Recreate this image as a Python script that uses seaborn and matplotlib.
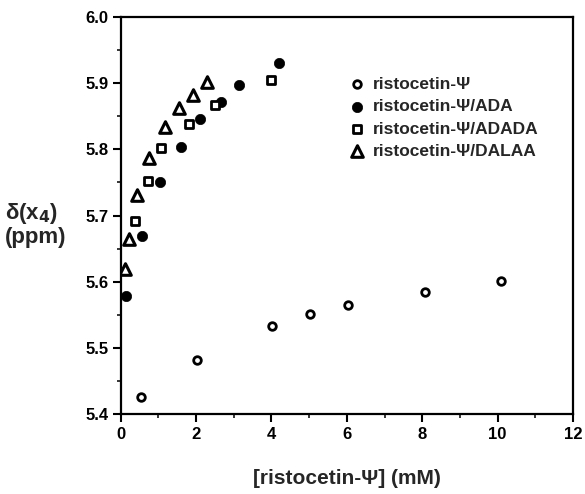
import matplotlib
matplotlib.use("Agg")
import matplotlib.pyplot as plt
import seaborn as sns
from matplotlib.ticker import MultipleLocator

sns.set_theme(style="ticks")
plt.rcParams['font.family'] = ['Liberation Sans', 'DejaVu Sans']

# Data (x: [ristocetin-Ψ] mM, y: δ(x4) ppm)
psi_x = [0.53, 2.03, 4.02, 5.03, 6.04, 8.08, 10.09]
psi_y = [5.426, 5.482, 5.533, 5.551, 5.565, 5.584, 5.601]

ada_x = [0.14, 0.56, 1.04, 1.59, 2.10, 2.65, 3.14, 4.19]
ada_y = [5.578, 5.669, 5.750, 5.803, 5.846, 5.871, 5.897, 5.930]

adada_x = [0.39, 0.73, 1.08, 1.82, 2.51, 3.98]
adada_y = [5.691, 5.752, 5.802, 5.839, 5.867, 5.905]

dalaa_x = [0.11, 0.23, 0.44, 0.76, 1.18, 1.55, 1.93, 2.30]
dalaa_y = [5.619, 5.665, 5.731, 5.787, 5.833, 5.862, 5.882, 5.902]

labels = ["ristocetin-Ψ", "ristocetin-Ψ/ADA", "ristocetin-Ψ/ADADA", "ristocetin-Ψ/DALAA"]

fig = plt.figure(figsize=(5.85, 4.94), dpi=100)
ax = fig.add_axes([0.2063, 0.1619, 0.7732, 0.8037])

sns.scatterplot(x=psi_x, y=psi_y, ax=ax, marker='o', s=30, facecolor='white',
                edgecolor='black', linewidth=2.0, label=labels[0])
sns.scatterplot(x=ada_x, y=ada_y, ax=ax, marker='o', s=55, color='black',
                edgecolor='black', linewidth=0.5, label=labels[1])
sns.scatterplot(x=adada_x, y=adada_y, ax=ax, marker='s', s=36, facecolor='white',
                edgecolor='black', linewidth=2.0, label=labels[2])
sns.scatterplot(x=dalaa_x, y=dalaa_y, ax=ax, marker='^', s=70, facecolor='white',
                edgecolor='black', linewidth=2.2, label=labels[3])

ax.set_xlim(0, 12)
ax.set_ylim(5.4, 6.0)
ax.xaxis.set_major_locator(MultipleLocator(2))
ax.xaxis.set_minor_locator(MultipleLocator(1))
ax.yaxis.set_major_locator(MultipleLocator(0.1))
ax.yaxis.set_minor_locator(MultipleLocator(0.05))
ax.set_xticklabels([f"{int(v)}" for v in ax.get_xticks()])
ax.set_yticklabels([f"{v:.1f}" for v in ax.get_yticks()])

for s in ax.spines.values():
    s.set_linewidth(1.6)
    s.set_color('black')
ax.tick_params(which='major', direction='out', length=6, width=1.5, labelsize=12,
               colors='black', pad=3)
ax.tick_params(which='minor', direction='out', length=3, width=1.3)
for t in ax.get_xticklabels() + ax.get_yticklabels():
    t.set_fontweight('bold')

ax.set_xlabel("[ristocetin-Ψ] (mM)", fontsize=15, fontweight='bold', labelpad=20)
ax.set_ylabel("")
fig.text(0.008, 0.545, "δ(x$_\\mathbf{4}$)\n(ppm)", fontsize=16, fontweight='bold',
         ha='left', va='center', linespacing=1.05)

leg = ax.legend(loc='upper left', bbox_to_anchor=(0.48, 0.872), frameon=False,
                prop={'size': 12.5, 'weight': 'bold'}, handletextpad=0.3,
                labelspacing=0.42, borderpad=0, handlelength=1.2)

fig.savefig("out.png", dpi=100)
